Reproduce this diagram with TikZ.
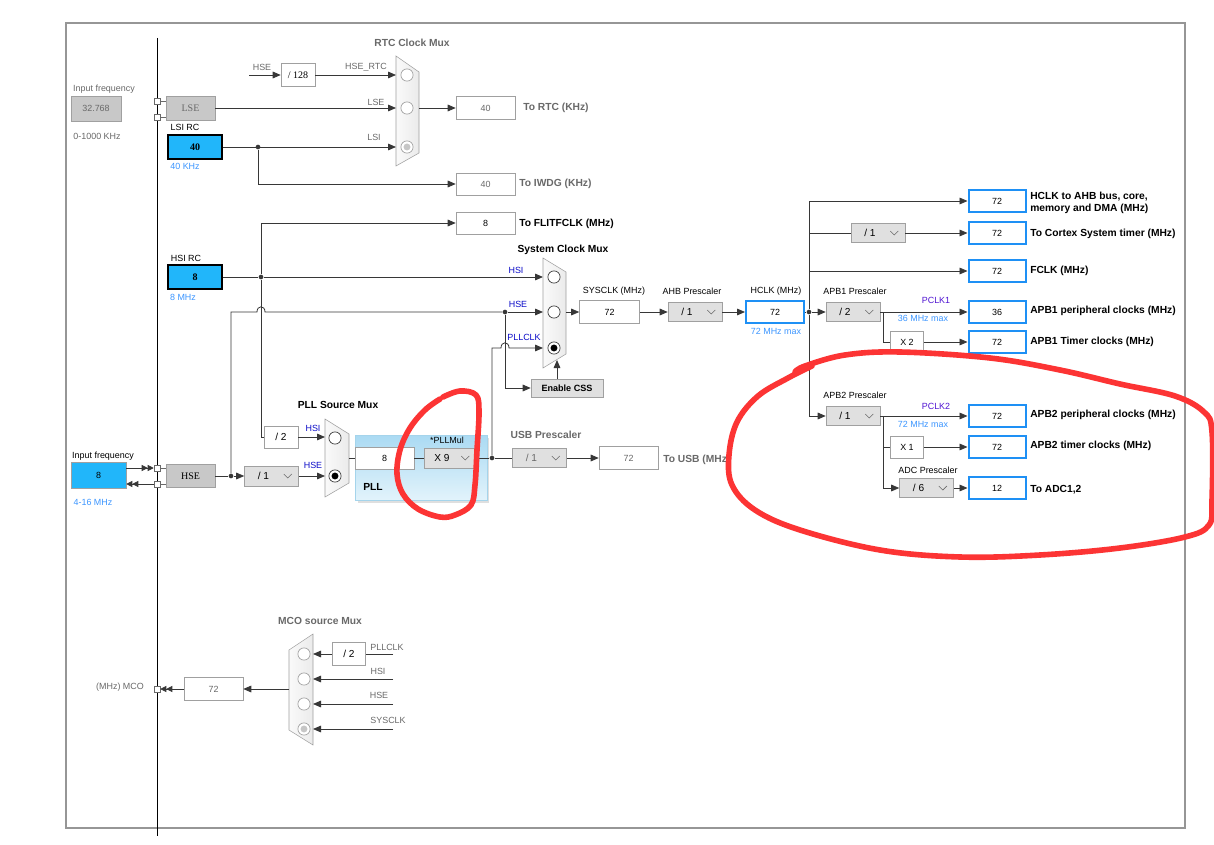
\documentclass[tikz,border=0pt]{standalone}
\usepackage{fontspec}
\setmainfont{Liberation Sans}
\newfontfamily\serifish{Liberation Serif}
\usetikzlibrary{arrows.meta,calc}
\definecolor{cyanfill}{RGB}{33,182,250}
\definecolor{outblue}{RGB}{30,144,245}
\definecolor{lblue}{RGB}{60,150,255}
\definecolor{sigblue}{RGB}{10,10,200}
\definecolor{pclkc}{RGB}{80,20,210}
\definecolor{gtext}{RGB}{105,105,105}
\definecolor{gfill}{RGB}{224,224,224}
\definecolor{dfill}{RGB}{200,200,200}
\definecolor{gline}{RGB}{160,160,160}
\definecolor{wirec}{RGB}{55,55,55}
\definecolor{redpen}{RGB}{252,52,52}
\definecolor{framec}{RGB}{150,150,150}
\definecolor{pllTop}{RGB}{170,218,243}
\definecolor{pllBot}{RGB}{226,243,251}
\tikzset{
  sz/.style 2 args={minimum width={(#1)*0.75pt},minimum height={(#2)*0.75pt}},
  fs/.style={font=\fontsize{6.7}{7.6}\selectfont},
  vbox/.style={draw=gline,fill=white,inner sep=0pt,fs},
  obox/.style={draw=outblue,line width=1.5pt,fill=white,inner sep=0pt,fs},
  pbox/.style={draw=gline,fill=gfill,inner sep=0pt},
  lsbox/.style={draw=black,fill=cyanfill,line width=0.8pt,inner sep=0pt,font=\serifish\bfseries\fontsize{7.5}{8}\selectfont},
  lab/.style={inner sep=0pt,fs},
  glab/.style={lab,text=gtext},
  blab/.style={inner sep=0pt,font=\fontsize{7.7}{9}\selectfont\bfseries},
  gblab/.style={blab,text=gtext},
  slab/.style={lab,text=sigblue},
  ilab/.style={lab,text=lblue},
  wire/.style={draw=wirec,line width=0.6pt},
  arr/.style={wire,-{Triangle[length=6pt,width=5pt]}},
  darr/.style={wire,-{Triangle[length=4.5pt,width=4.5pt]Triangle[length=4.5pt,width=4.5pt]}},
  jdot/.style={circle,fill=wirec,inner sep=0pt,minimum size=3.5pt},
  sqr/.style={draw=gtext,fill=white,inner sep=0pt,minimum size=4.5pt},
  muxst/.style={draw=gline,left color=gray!4,right color=gray!16},
  redstroke/.style={draw=redpen,line width=4.2pt,line cap=round,line join=round},
}
\newcommand\ddbox[6]{%
  \node[pbox,sz={#4}{#5}] (#1) at (#2,#3) {};
  \node[inner sep=0pt,font=\fontsize{7.6}{8}\selectfont] (#1t) at ($(#1.center)+(-8,0)$) {#6};
  \draw[gtext,line width=0.5pt] ($(#1.east)+(-15,-2)$) -- ++(4,4) -- ++(4,-4);
}
\newcommand\muxshape[6]{\path[muxst] (#1,#2) -- (#4,#5) -- (#4,#6) -- (#1,#3) -- cycle;}
\newcommand\mcirc[3]{\draw[draw=#3,fill=white,line width=0.5pt] (#1,#2) circle[radius=4.6pt];}
\newcommand\msel[4]{\draw[draw=#3,fill=white,line width=0.5pt] (#1,#2) circle[radius=4.6pt]; \fill[#4] (#1,#2) circle[radius=2.6pt];}
\begin{document}
\begin{tikzpicture}[x=0.75pt,y=-0.75pt]
\useasboundingbox (0,0) rectangle (1214,845);
\fill[white] (0,0) rectangle (1214,845);
\draw[framec,line width=2.2pt] (66,23) rectangle (1185,828);
\draw[black,line width=0.6pt] (157,38) -- (157,836);

% ---------- RTC part ----------
\node[glab] (tInF1) at (104,89) {Input frequency};
\node[draw=gline,fill=dfill,sz={50}{25},inner sep=0pt,text=gtext,fs] (inf1) at (96,108.5) {32.768};
\node[glab] (tRange1) at (97,136) {0-1000 KHz};
\node[sqr] (sqA) at (157,101) {};
\node[sqr] (sqB) at (157,117) {};
\node[draw=gline,fill=dfill,sz={49}{24},inner sep=0pt,text=gtext,font=\serifish\fontsize{7.5}{8}\selectfont] (lse) at (190.5,108) {LSE};
\draw[wire,draw=gtext] (sqA) -- (lse.west |- sqA);
\draw[wire,draw=gtext] (sqB) -- (lse.west |- sqB);
\node[lab] (tLSIRC) at (185,127) {LSI RC};
\node[lsbox,sz={54}{24}] (lsi) at (195,147) {40};
\node[ilab] (tLSIk) at (185,166) {40 KHz};

\muxshape{396}{56}{166}{419}{72}{153}
\mcirc{407}{75}{gline}
\mcirc{407}{108}{gline}
\msel{407}{147}{gline}{gray!45}
\node[gblab] (tRTCmux) at (412,43) {RTC Clock Mux};
\coordinate (hseRTCin) at (249,75);
\node[vbox,sz={34}{23},font=\serifish\fontsize{7.5}{8}\selectfont] (d128) at (298,75) {/ 128};
\node[glab] (tHSErtc) at (262,67) {HSE};
\draw[arr] (hseRTCin) -- (d128.west);
\coordinate (rtc1) at (396,75);
\draw[arr] (d128.east) -- (rtc1);
\node[glab] (tHSE_RTC) at (366,67) {HSE\_RTC};
\coordinate (rtc2) at (396,108);
\draw[arr] (lse.east) -- (rtc2);
\node[glab] (tLSE) at (376,102) {LSE};
\coordinate (rtc3) at (396,147);
\draw[arr] (lsi.east) -- (rtc3);
\node[glab] (tLSI) at (374,137) {LSI};
\node[jdot] (jL) at (258,147) {};
\node[vbox,sz={59}{22},text=gtext] (iwdg) at (485.5,184) {40};
\draw[arr] (jL) |- (iwdg.west);
\node[gblab,anchor=west] (tIWDG) at (519,184) {To IWDG (KHz)};
\coordinate (rtcOut) at (419,108);
\node[vbox,sz={59}{23},text=gtext] (rtcbox) at (485.5,108) {40};
\draw[arr] (rtcOut) -- (rtcbox.west);
\node[gblab,anchor=west] (tRTC) at (523,108) {To RTC (KHz)};

% ---------- HSI / system mux ----------
\node[lab] (tHSIRC) at (186,258) {HSI RC};
\node[lsbox,sz={54}{24}] (hsi) at (195,277) {8};
\node[ilab] (tHSIm) at (183,297) {8 MHz};
\node[jdot] (jH) at (261,277) {};
\draw[wire] (hsi.east) -- (jH);
\coordinate (sys1) at (543,277);
\draw[arr] (jH) -- (sys1);
\node[vbox,sz={59}{22}] (flit) at (485.5,223) {8};
\draw[arr] (jH) |- (flit.west);
\node[blab,anchor=west] (tFLIT) at (519,224) {To FLITFCLK (MHz)};
\node[slab] (tHSI1) at (516,270) {HSI};

\muxshape{543}{258}{368}{566}{272}{354}
\mcirc{554}{277}{wirec}
\mcirc{554}{312}{wirec}
\msel{554}{348}{wirec}{black}
\node[blab] (tSysMux) at (563,250) {System Clock Mux};

% ---------- HSE input / PLL ----------
\node[lab] (tInF2) at (103,456) {Input frequency};
\node[draw=gline,fill=cyanfill,sz={55}{26},inner sep=0pt,fs] (hsein) at (98.5,475) {8};
\node[ilab] (tRange2) at (93,502) {4-16 MHz};
\node[sqr] (sqC) at (157,468) {};
\node[sqr] (sqD) at (157,484) {};
\node[draw=gline,fill=dfill,sz={49}{23},inner sep=0pt,font=\serifish\fontsize{7.5}{8}\selectfont] (hsebox) at (190.5,476) {HSE};
\draw[darr] (hsein.east |- sqC) -- (sqC.west);
\draw[darr] (sqD.west) -- (hsein.east |- sqD);
\draw[wire,draw=gtext] (sqC) -- (hsebox.west |- sqC);
\draw[wire,draw=gtext] (sqD) -- (hsebox.west |- sqD);
\node[jdot] (jE) at (231,476) {};
\draw[wire] (hsebox.east) -- (jE);
\ddbox{div1}{271.5}{476}{54}{20}{/ 1}
\draw[arr] (jE) -- (div1.west);
\node[vbox,sz={34}{22},font=\fontsize{7.6}{8}\selectfont] (div2) at (281,437) {/ 2};
\draw[wire] (jH) |- (div2.west);

\muxshape{325}{419}{497}{349}{434}{483}
\mcirc{335}{438}{wirec}
\msel{335}{476}{wirec}{black}
\coordinate (pm1) at (325,437);
\coordinate (pm2) at (325,476);
\draw[arr] (div2.east) -- (pm1);
\draw[arr] (div1.east) -- (pm2);
\node[slab] (tHSI2) at (313,428) {HSI};
\node[slab] (tHSE2) at (313,465) {HSE};
\node[blab] (tPLLsrc) at (338,405) {PLL Source Mux};

\node[jdot] (jS) at (505,312) {};
\coordinate (sys2) at (543,312);
\draw[wire] (jE) -- (jE |- jS) -- (257,312) .. controls (257,305) and (265,305) .. (265,312) -- (jS);
\draw[arr] (jS) -- (sys2);
\node[slab] (tHSE1) at (518,304) {HSE};
\node[pbox,sz={72}{18},font=\fontsize{6.8}{7}\selectfont\bfseries] (css) at (567,388) {Enable CSS};
\draw[arr] (jS) |- (css.west);
\coordinate (sysBot) at (557,360);
\draw[arr] (css.north -| sysBot) -- (sysBot);

\fill[gray!25] (358,438) rectangle (489,503);
\node[draw={rgb,255:red,165;green,212;blue,235},top color=pllTop,bottom color=pllBot,sz={132}{65},inner sep=0pt] (pllblk) at (421,467.5) {};
\node[vbox,sz={59}{22}] (pllin) at (384.5,458) {8};
\ddbox{pllmul}{450}{458}{52}{20}{X 9}
\node[lab] (tPLLMul) at (447,440) {*PLLMul};
\node[blab] (tPLL) at (373,487) {PLL};
\coordinate (pmOut) at (349,458);
\draw[wire] (pmOut) -- (pllin.west);
\draw[wire] (pllin.east) -- (pllmul.west);
\node[jdot] (jP) at (492,458) {};
\draw[wire] (pllmul.east) -- (jP);
\ddbox{usbdiv}{539.5}{458}{54}{19}{\color{gtext}/ 1}
\draw[wire] (jP) -- (usbdiv.west);
\node[vbox,sz={59}{23},text=gtext] (usbout) at (628.5,458) {72};
\draw[arr] (usbdiv.east) -- (usbout.west);
\node[gblab,anchor=west] (tUSB) at (663,460) {To USB (MHz)};
\node[gblab] (tUSBpre) at (546,435) {USB Prescaler};
\coordinate (sys3) at (543,348);
\draw[arr] (jP) -- (jP |- sys3) -- (501,348) .. controls (501,341) and (509,341) .. (509,348) -- (sys3);
\node[slab] (tPLLCLK) at (524,337) {PLLCLK};

% ---------- AHB / APB ----------
\coordinate (sysOut) at (566,312);
\node[vbox,sz={60}{23}] (sysclk) at (609.5,312) {72};
\draw[arr] (sysOut) -- (sysclk.west);
\node[lab] (tSYSCLK) at (614,291) {SYSCLK (MHz)};
\ddbox{ahb}{695}{312}{54}{19}{/ 1}
\node[lab] (tAHB) at (692,291) {AHB Prescaler};
\node[obox,sz={58}{22}] (hclk) at (775,312) {72};
\node[lab] (tHCLK) at (776,291) {HCLK (MHz)};
\node[ilab] (tHCLKmax) at (776,331) {72 MHz max};
\draw[arr] (sysclk.east) -- (ahb.west);
\draw[arr] (ahb.east) -- (hclk.west);
\node[jdot] (jC) at (809,312) {};
\draw[wire] (hclk.east) -- (jC);
\ddbox{apb1}{853}{312}{54}{19}{/ 2}
\draw[arr] (jC) -- (apb1.west);
\node[lab] (tAPB1) at (855,291) {APB1 Prescaler};

\node[obox,sz={57}{22}] (o1) at (997,201) {72};
\node[obox,sz={57}{22}] (o2) at (997,233) {72};
\node[obox,sz={57}{22}] (o3) at (997,271) {72};
\node[obox,sz={57}{22}] (o4) at (997,312) {36};
\node[obox,sz={57}{22}] (o5) at (997,342) {72};
\node[obox,sz={57}{22}] (o6) at (997,416) {72};
\node[obox,sz={57}{22}] (o7) at (997,447) {72};
\node[obox,sz={57}{22}] (o8) at (997,488) {12};
\node[blab,anchor=west,align=left] (to1) at (1030,203) {HCLK to AHB bus, core,\\memory and DMA (MHz)};
\node[blab,anchor=west] (to2) at (1030,234) {To Cortex System timer (MHz)};
\node[blab,anchor=west] (to3) at (1030,271) {FCLK (MHz)};
\node[blab,anchor=west] (to4) at (1030,311) {APB1 peripheral clocks (MHz)};
\node[blab,anchor=west] (to5) at (1030,342) {APB1 Timer clocks (MHz)};
\node[blab,anchor=west] (to6) at (1030,415) {APB2 peripheral clocks (MHz)};
\node[blab,anchor=west] (to7) at (1030,446) {APB2 timer clocks (MHz)};
\node[blab,anchor=west] (to8) at (1030,490) {To ADC1,2};

\ddbox{cdiv}{878}{233}{54}{19}{/ 1}
\draw[arr] (jC) |- (o1.west);
\draw[wire] (jC |- cdiv) -- (cdiv.west);
\draw[arr] (cdiv.east) -- (o2.west);
\draw[arr] (jC |- o3) -- (o3.west);
\ddbox{apb2}{853}{416}{54}{19}{/ 1}
\draw[arr] (jC) |- (apb2.west);
\node[lab] (tAPB2) at (855,395) {APB2 Prescaler};
\draw[arr] (apb1.east) -- (o4.west);
\coordinate (b1) at (883,312);
\node[vbox,sz={33}{21}] (x2) at (907,342) {X 2};
\draw[wire] (b1) |- (x2.west);
\draw[arr] (x2.east) -- (o5.west);
\node[lab,text=pclkc] (tPCLK1) at (936,300) {PCLK1};
\node[ilab] (tP1max) at (923,318) {36 MHz max};
\draw[arr] (apb2.east) -- (o6.west);
\coordinate (b2) at (883,416);
\node[vbox,sz={33}{22}] (x1) at (907,447) {X 1};
\draw[wire] (b2) |- (x1.west);
\draw[arr] (x1.east) -- (o7.west);
\ddbox{adc}{926.5}{488}{54}{19}{/ 6}
\draw[arr] (b2) |- (adc.west);
\draw[arr] (adc.east) -- (o8.west);
\node[lab] (tADC) at (928,470) {ADC Prescaler};
\node[lab,text=pclkc] (tPCLK2) at (936,406) {PCLK2};
\node[ilab] (tP2max) at (923,424) {72 MHz max};

% ---------- MCO ----------
\node[gblab] (tMCOmux) at (320,621) {MCO source Mux};
\muxshape{289}{650}{730}{313}{634}{745}
\mcirc{304}{654}{gline}
\mcirc{304}{679}{gline}
\mcirc{304}{704}{gline}
\msel{304}{729}{gline}{gray!45}
\node[vbox,sz={33}{23},font=\fontsize{7.6}{8}\selectfont] (mdiv) at (349,654) {/ 2};
\coordinate (mPLL) at (393,654);
\draw[wire] (mPLL) -- (mdiv.east);
\coordinate (mc1) at (313,654);
\draw[arr] (mdiv.west) -- (mc1);
\coordinate (mHSI) at (393,679);
\coordinate (mc2) at (313,679);
\draw[arr] (mHSI) -- (mc2);
\coordinate (mHSE) at (393,704);
\coordinate (mc3) at (313,704);
\draw[arr] (mHSE) -- (mc3);
\coordinate (mSYS) at (393,729);
\coordinate (mc4) at (313,729);
\draw[arr] (mSYS) -- (mc4);
\node[glab] (tmPLL) at (387,647) {PLLCLK};
\node[glab] (tmHSI) at (378,671) {HSI};
\node[glab] (tmHSE) at (379,695) {HSE};
\node[glab] (tmSYS) at (388,720) {SYSCLK};
\coordinate (mOut) at (289,689);
\node[vbox,sz={59}{23},text=gtext] (mcobox) at (213.5,689) {72};
\draw[arr] (mOut) -- (mcobox.east);
\node[sqr] (sqE) at (157,689) {};
\draw[darr] (mcobox.west) -- (sqE.east);
\node[glab] (tMCO) at (120,687) {(MHz) MCO};

% ---------- red annotations ----------
\draw[redstroke] plot[smooth,tension=0.6] coordinates {(443,397) (460,391) (476,395) (479,412) (477,450) (475,485) (471,505) (455,515) (440,517) (418,509) (403,494) (397,474) (400,450) (410,428) (425,410) (440,399)};
\draw[redstroke] plot[smooth,tension=0.6] coordinates {(795,372) (805,366) (845,355) (900,352) (990,358) (1060,370) (1120,384) (1175,396) (1204,412) (1212,432) (1212,500) (1209,525) (1185,537) (1120,548) (1040,555) (960,557) (880,550) (800,530) (755,510) (732,485) (729,455) (737,422) (758,396) (788,378) (812,366)};
\end{tikzpicture}
\end{document}
